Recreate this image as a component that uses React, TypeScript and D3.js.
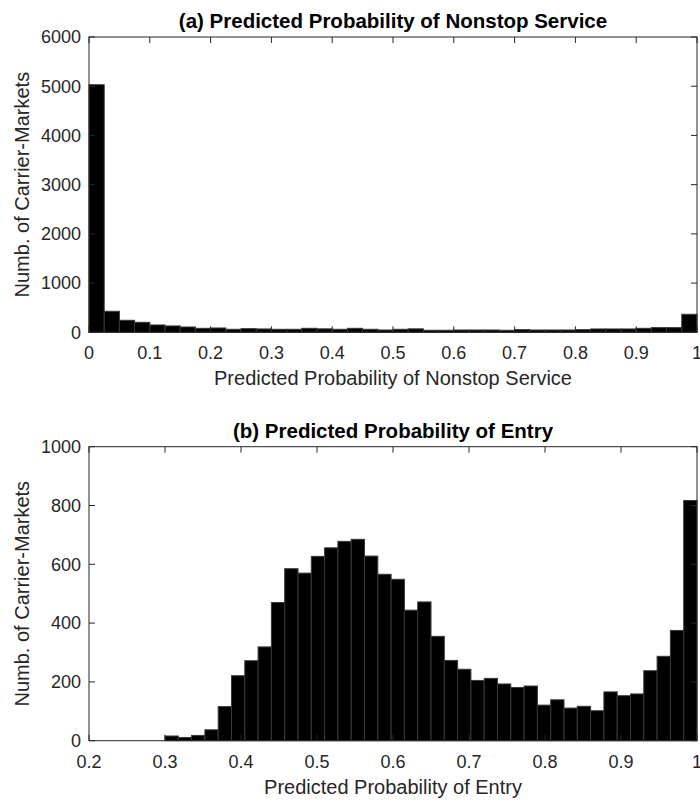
import React from 'react';
import * as d3 from 'd3';

// panel (a): 40 bins of width 0.025 from 0 to 1
const nonstopBinStart = 0;
const nonstopBinWidth = 0.025;
const nonstopCounts = [
  5030, 427, 244, 203, 149, 129, 108, 81, 88, 61,
  74, 68, 61, 61, 81, 70, 61, 81, 61, 47,
  61, 70, 41, 41, 47, 47, 47, 41, 54, 47,
  47, 47, 54, 68, 68, 68, 81, 95, 95, 366,
];

// panel (b): 40 bins of width 0.0175 from 0.3 to 1
const entryBinStart = 0.3;
const entryBinWidth = 0.0175;
const entryCounts = [
  16, 11, 18, 37, 116, 221, 272, 319, 470, 585,
  570, 627, 656, 678, 685, 628, 566, 549, 444, 472,
  355, 273, 243, 205, 212, 193, 181, 186, 121, 139,
  111, 117, 102, 166, 153, 159, 238, 287, 375, 817,
];

const nonstopXTicks = [0, 0.1, 0.2, 0.3, 0.4, 0.5, 0.6, 0.7, 0.8, 0.9, 1];
const nonstopYTicks = [0, 1000, 2000, 3000, 4000, 5000, 6000];
const entryXTicks = [0.2, 0.3, 0.4, 0.5, 0.6, 0.7, 0.8, 0.9, 1];
const entryYTicks = [0, 200, 400, 600, 800, 1000];

const FONT = '"Liberation Sans", Arial, Helvetica, sans-serif';
const INK = '#262626';
const TICK = 6;

type PanelProps = {
  counts: number[];
  binStart: number;
  binWidth: number;
  xDomain: [number, number];
  yMax: number;
  xTicks: number[];
  yTicks: number[];
  title: string;
  xLabel: string;
  top: number;
  bottom: number;
};

const left = 89;
const right = 697;

function Panel(p: PanelProps) {
  const x = d3.scaleLinear().domain(p.xDomain).range([left, right]);
  const y = d3.scaleLinear().domain([0, p.yMax]).range([p.bottom, p.top]);
  const fmt = (t: number) => String(+t.toFixed(2));
  const midX = (left + right) / 2;
  const midY = (p.top + p.bottom) / 2;

  return (
    <g>
      {p.counts.map((c, i) => {
        const x0 = x(p.binStart + i * p.binWidth);
        const x1 = x(p.binStart + (i + 1) * p.binWidth);
        return (
          <rect
            key={i}
            x={x0}
            y={y(c)}
            width={x1 - x0}
            height={p.bottom - y(c)}
            fill="#000"
            stroke="#383838"
            strokeWidth={1}
          />
        );
      })}

      {/* box */}
      <rect x={left} y={p.top} width={right - left} height={p.bottom - p.top}
        fill="none" stroke={INK} strokeWidth={1} />

      {p.xTicks.map((t) => (
        <g key={'x' + t}>
          <line x1={x(t)} x2={x(t)} y1={p.bottom} y2={p.bottom - TICK} stroke={INK} />
          <line x1={x(t)} x2={x(t)} y1={p.top} y2={p.top + TICK} stroke={INK} />
          <text x={x(t)} y={p.bottom + 27} textAnchor="middle" fontSize={18}
            fontFamily={FONT} fill={INK}>{fmt(t)}</text>
        </g>
      ))}

      {p.yTicks.map((t) => (
        <g key={'y' + t}>
          <line x1={left} x2={left + TICK} y1={y(t)} y2={y(t)} stroke={INK} />
          <line x1={right} x2={right - TICK} y1={y(t)} y2={y(t)} stroke={INK} />
          <text x={81} y={y(t)} dy="0.35em" textAnchor="end" fontSize={18}
            fontFamily={FONT} fill={INK}>{t}</text>
        </g>
      ))}

      <text x={midX} y={p.top - 9} textAnchor="middle" fontSize={20.5}
        fontWeight="bold" fontFamily={FONT} fill="#000">{p.title}</text>
      <text x={midX} y={p.bottom + 53} textAnchor="middle" fontSize={20}
        fontFamily={FONT} fill={INK}>{p.xLabel}</text>
      <text transform={`translate(29,${midY}) rotate(-90)`} textAnchor="middle"
        fontSize={20} fontFamily={FONT} fill={INK}>Numb. of Carrier-Markets</text>
    </g>
  );
}

export default function App() {
  return (
    <svg width={700} height={804} style={{ position: 'absolute', left: 0, top: 0, background: '#fff' }}>
      <rect width={700} height={804} fill="#fff" />
      <Panel
        counts={nonstopCounts}
        binStart={nonstopBinStart}
        binWidth={nonstopBinWidth}
        xDomain={[0, 1]}
        yMax={6000}
        xTicks={nonstopXTicks}
        yTicks={nonstopYTicks}
        title="(a) Predicted Probability of Nonstop Service"
        xLabel="Predicted Probability of Nonstop Service"
        top={37}
        bottom={332.3}
      />
      <Panel
        counts={entryCounts}
        binStart={entryBinStart}
        binWidth={entryBinWidth}
        xDomain={[0.2, 1]}
        yMax={1000}
        xTicks={entryXTicks}
        yTicks={entryYTicks}
        title="(b) Predicted Probability of Entry"
        xLabel="Predicted Probability of Entry"
        top={446.7}
        bottom={740.7}
      />
    </svg>
  );
}
